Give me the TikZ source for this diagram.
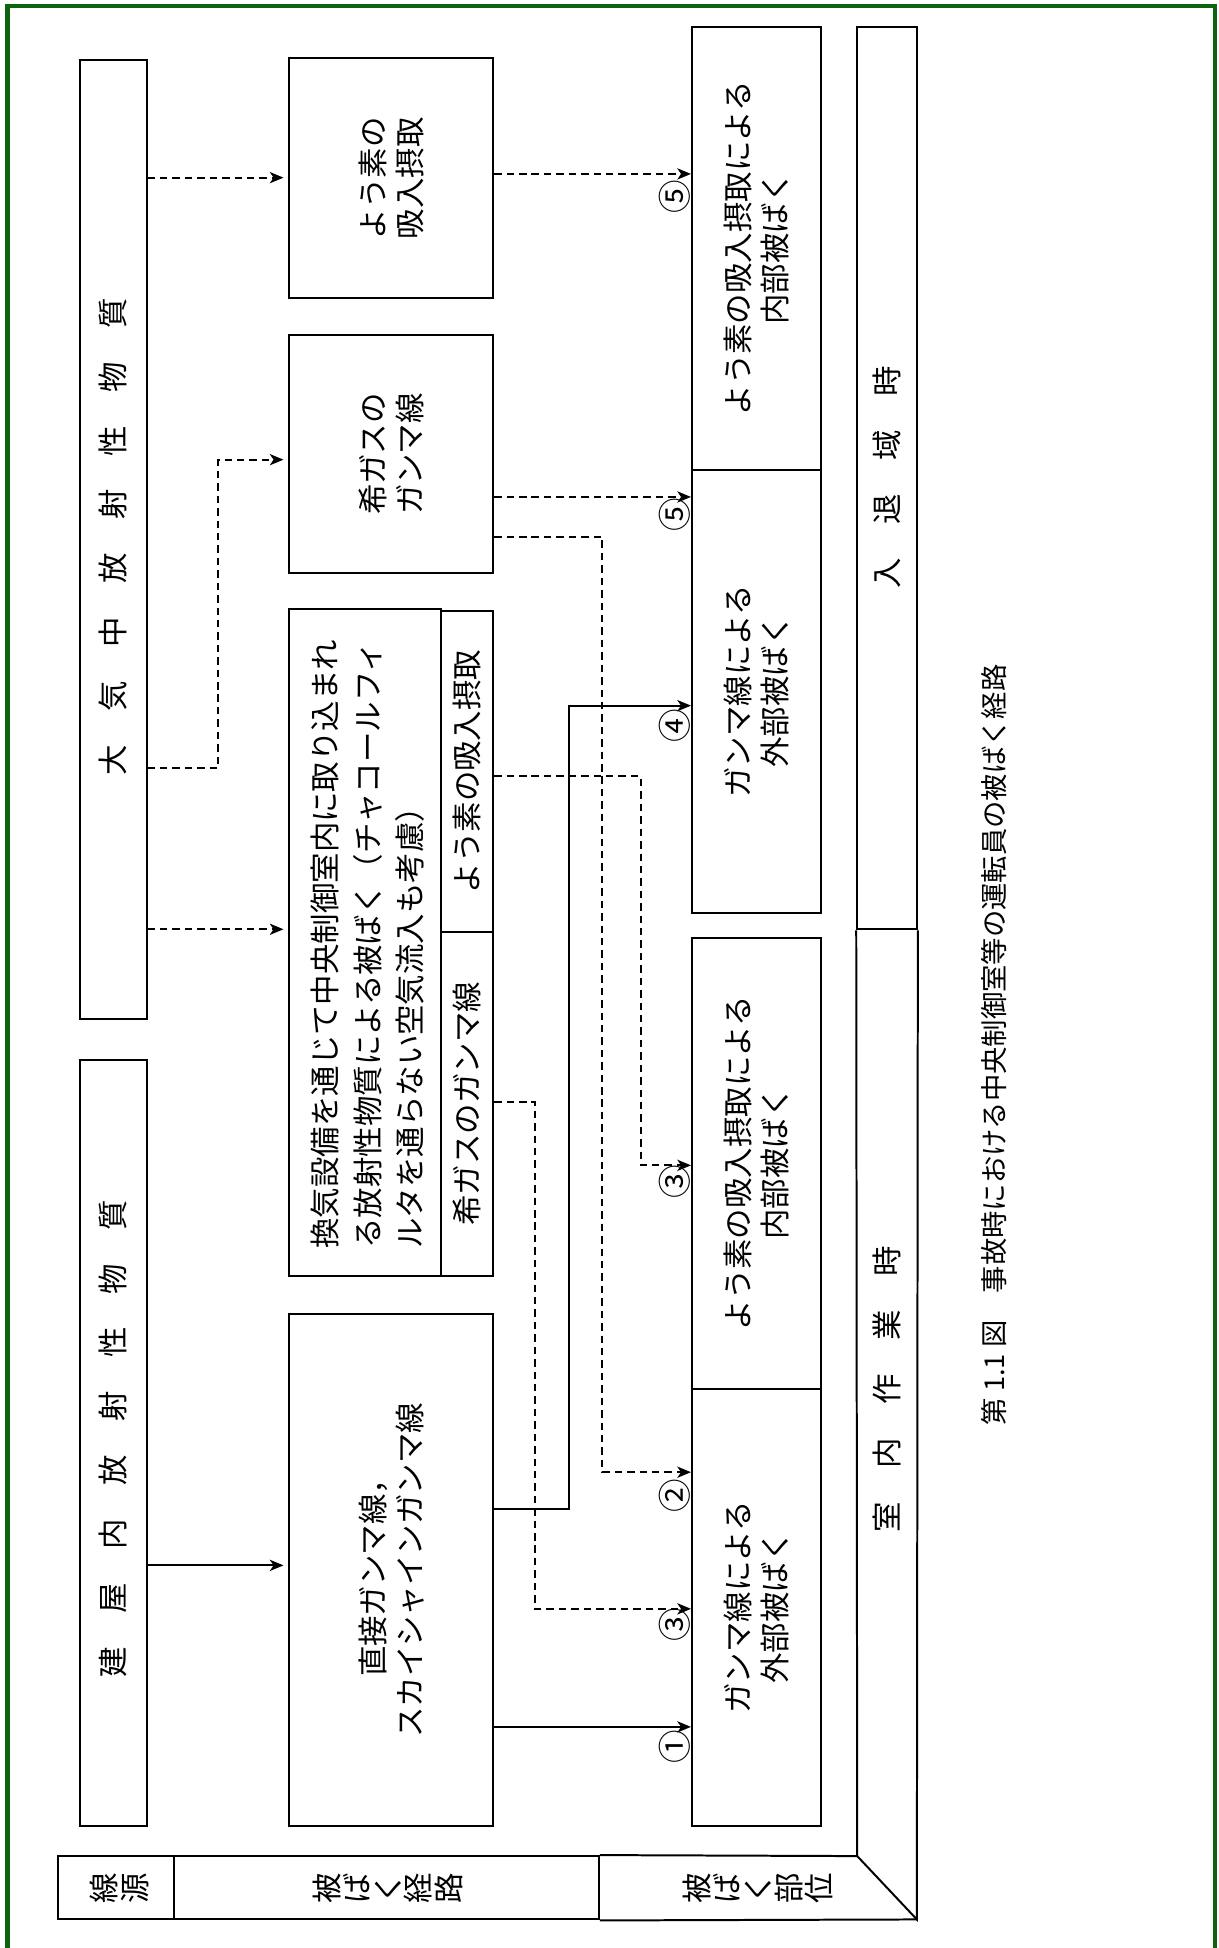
\documentclass[tikz,border=0pt]{standalone}
\usepackage{fontspec}
\newfontfamily\jp{Noto Sans CJK JP}
\usetikzlibrary{arrows.meta,calc}
\definecolor{framegreen}{RGB}{14,100,14}
\newcommand\gp{\hspace{1.1em}}
\begin{document}
\begin{tikzpicture}[x=1pt,y=-1pt,
  box/.style={draw, line width=1.6pt, inner sep=0pt},
  txt/.style={rotate=90, font=\jp\fontsize{24.5}{30}\selectfont, align=center, inner sep=0pt},
  conn/.style={line width=1.6pt, -{Stealth[length=11pt,width=9pt,inset=3pt]}},
  dconn/.style={conn, dash pattern=on 6pt off 4pt},
  num/.style={rotate=90, font=\jp\fontsize{27}{27}\selectfont, inner sep=0pt}]
\useasboundingbox (0,0) rectangle (981,1568);
% green frame
\draw[framegreen, line width=3.5pt] (6,1580) -- (6,5) -- (978,5) -- (978,1580);

% sources
\node[box, minimum width=54pt, minimum height=772pt] (src1) at (91,434) {};
\node[box, minimum width=54pt, minimum height=617pt] (src2) at (91,1161.5) {};
\node[txt] (t-src1) at (91,432) {大\gp 気\gp 中\gp 放\gp 射\gp 性\gp 物\gp 質};
\node[txt] (t-src2) at (91,1158) {建\gp 屋\gp 内\gp 放\gp 射\gp 性\gp 物\gp 質};

% paths
\node[box, minimum width=164pt, minimum height=193pt] (iod) at (315,143.5) {};
\node[txt] (t-iod) at (iod.center) {よう素の\\吸入摂取};
\node[box, minimum width=164pt, minimum height=191pt] (gas) at (315,365.5) {};
\node[txt] (t-gas) at (gas.center) {希ガスの\\ガンマ線};
\node[box, minimum width=122pt, minimum height=537pt] (vent) at (294,758.5) {};
\node[box, minimum width=42pt, minimum height=258pt] (ventiod) at (376,621) {};
\node[box, minimum width=42pt, minimum height=277pt] (ventgas) at (376,888.5) {};
\node[txt, align=left, font=\jp\fontsize{24.5}{34}\selectfont] (t-vent) at (296,760)
  {換気設備を通じて中央制御室内に取り込まれ\\る放射性物質による被ばく（チャコールフィ\\ルタを通らない空気流入も考慮）};
\node[txt] (t-ventiod) at (ventiod.center) {よう素の吸入摂取};
\node[txt] (t-ventgas) at (ventgas.center) {希ガスのガンマ線};
\node[box, minimum width=164pt, minimum height=412pt] (direct) at (315,1264) {};
\node[txt] (t-direct) at (direct.center) {直接ガンマ線，\\スカイシャインガンマ線};

% exposure sites
\node[box, minimum width=104pt, minimum height=356pt] (R1) at (609,200) {};
\node[box, minimum width=104pt, minimum height=357pt] (R2) at (609,556.5) {};
\node[box, minimum width=104pt, minimum height=363pt] (R3) at (609,936.5) {};
\node[box, minimum width=104pt, minimum height=352pt] (R4) at (609,1294) {};
\node[txt] (t-R1) at (R1.center) {よう素の吸入摂取による\\内部被ばく};
\node[txt] (t-R2) at (R2.center) {ガンマ線による\\外部被ばく};
\node[txt] (t-R3) at (R3.center) {よう素の吸入摂取による\\内部被ばく};
\node[txt] (t-R4) at (R4.center) {ガンマ線による\\外部被ばく};

% time column and header
\node[box, minimum width=48pt, minimum height=726pt] (colA) at (714,385) {};
\coordinate (cB1) at (690,1494);
\coordinate (cB2) at (738,1545);
\draw[line width=1.6pt] (colA.south west) -- (cB1) -- (cB2) -- (colA.south east);
\node[txt] (t-colA) at (714,384) {入\gp 退\gp 域\gp 時};
\node[txt] (t-colB) at (714,1118) {室\gp 内\gp 作\gp 業\gp 時};
\node[box, minimum width=93pt, minimum height=51pt] (h1) at (93.5,1519.5) {};
\node[box, minimum width=342pt, minimum height=51pt] (h2) at (311,1519.5) {};
\draw[line width=1.6pt] (h2.north east) -- (cB1);
\draw[line width=1.6pt] (h2.south east) -- (cB2);
\node[txt, font=\jp\fontsize{24.5}{24.6}\selectfont] (t-h1) at (96,1520) {線\\源};
\node[txt, font=\jp\fontsize{24.5}{24.6}\selectfont] (t-h2) at (312,1520) {被\\ば\\く\\経\\路};
\node[txt, font=\jp\fontsize{24.5}{24.6}\selectfont] (t-h3) at (610,1520) {被\\ば\\く\\部\\位};

% caption
\node[txt, font=\jp\fontsize{22}{22}\selectfont] (cap) at (800,841)
  {第 1.1 図\hspace{1em}事故時における中央制御室等の運転員の被ばく経路};

% connectors
\draw[conn, shorten >=4pt] (src2.east |- 0,1260) -- (direct.west |- 0,1260);
\draw[dconn, shorten >=4pt] (src1.east |- 0,748) -- (vent.west |- 0,748);
\draw[dconn, shorten >=4pt] (src1.east |- 0,618) -- ++(57,0) |- (gas.west |- 0,370);
\draw[dconn, shorten >=4pt] (src1.east |- 0,143) -- (iod.west |- 0,143);
\draw[conn] (direct.east |- 0,1390) -- (R4.west |- 0,1390);
\draw[conn] (direct.east |- 0,1215) -- ++(60,0) |- (R2.west |- 0,568);
\draw[dconn] (ventgas.east |- 0,887) -- ++(33,0) |- (R4.west |- 0,1295);
\draw[dconn] (ventiod.east |- 0,625) -- ++(118,0) |- (R3.west |- 0,938);
\draw[dconn] (gas.east |- 0,400) -- (R2.west |- 0,400);
\draw[dconn] (gas.east |- 0,432) -- ++(87,0) |- (R4.west |- 0,1185);
\draw[dconn] (iod.east |- 0,140) -- (R1.west |- 0,140);

% numbers
\node[num] (n1) at (543,1406) {①};
\node[num] (n3a) at (543,1308) {③};
\node[num] (n2) at (543,1204) {②};
\node[num] (n3b) at (543,951) {③};
\node[num] (n4) at (543,584) {④};
\node[num] (n5a) at (543,414) {⑤};
\node[num] (n5b) at (543,158) {⑤};
\end{tikzpicture}
\end{document}
